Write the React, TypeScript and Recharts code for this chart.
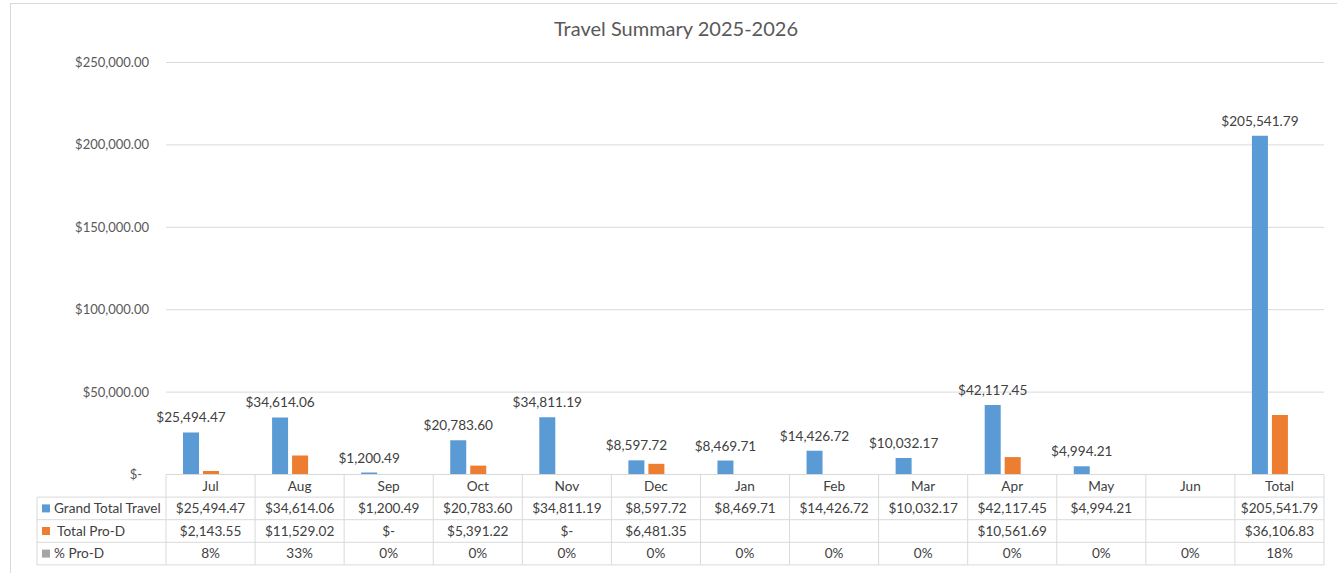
import { BarChart, Bar, XAxis, YAxis, CartesianGrid, LabelList } from "recharts";

// Excel palette -- raw hex because recharts paints SVG directly
const BLUE = "#5B9BD5";
const ORANGE = "#ED7D31";
const GRAY = "#A5A5A5";
const GRID = "#D9D9D9";
const AXIS_TEXT = "#595959";
const TABLE_TEXT = "#404040";
const FONT = "Lato, 'Open Sans', sans-serif";

const months = ["Jul", "Aug", "Sep", "Oct", "Nov", "Dec", "Jan", "Feb", "Mar", "Apr", "May", "Jun", "Total"];
const grandTotalTravel = [
  25494.47, 34614.06, 1200.49, 20783.6, 34811.19, 8597.72, 8469.71, 14426.72, 10032.17, 42117.45, 4994.21, null,
  205541.79,
];
const totalProD = [2143.55, 11529.02, 0, 5391.22, 0, 6481.35, null, null, null, 10561.69, null, null, 36106.83];
const pctProD = [0.08, 0.33, 0, 0, 0, 0, 0, 0, 0, 0, 0, 0, 0.18];
const yTicks = [0, 50000, 100000, 150000, 200000, 250000];

const seriesNames = ["Grand Total Travel", " Total Pro-D", "% Pro-D"];
const seriesColors = [BLUE, ORANGE, GRAY];

const W = 1337;
const H = 573;
const PLOT_LEFT = 166;
const PLOT_RIGHT = 1324;
const PLOT_TOP = 62.5;
const PLOT_BOTTOM = 474.5;
const ROW_H = 22.6;
const TABLE_LEFT = 37;
const XAXIS_H = 92;
const TABLE_FS = 13.6;

const money = (v: number | null) => {
  if (v === null || v === undefined) return "";
  if (v === 0) return "$-";
  return "$" + v.toLocaleString("en-US", { minimumFractionDigits: 2, maximumFractionDigits: 2 });
};
const pct = (v: number | null) => (v === null ? "" : `${Math.round(v * 100)}%`);

const data = months.map((m, i) => ({
  month: m,
  travel: grandTotalTravel[i],
  prod: totalProD[i],
  pct: pctProD[i],
}));

function YTick(props: any) {
  const { x, y, payload } = props;
  const zero = payload.value === 0;
  return (
    <text x={zero ? x - 16 : x - 9} y={y} dy={4.5} textAnchor="end" fill={AXIS_TEXT} fontSize={13} fontFamily={FONT}>
      {zero ? "$-" : money(payload.value)}
    </text>
  );
}

function TableColumn(props: any) {
  const { x, index } = props;
  const colW = (PLOT_RIGHT - PLOT_LEFT) / months.length;
  const left = x - colW / 2;
  const rows = [money(grandTotalTravel[index]), money(totalProD[index]), pct(pctProD[index])];
  const top = PLOT_BOTTOM;
  const cellText = (txt: string, r: number, cx: number) => (
    <text
      x={cx}
      y={top + ROW_H * r + ROW_H / 2}
      dy={4.7}
      textAnchor="middle"
      fill={TABLE_TEXT}
      fontSize={TABLE_FS}
      fontFamily={FONT}
    >
      {txt}
    </text>
  );
  return (
    <g>
      {index === 0 && (
        <g>
          <line x1={TABLE_LEFT} x2={TABLE_LEFT} y1={top + ROW_H} y2={top + ROW_H * 4} stroke={GRID} />
          {[1, 2, 3, 4].map((r) => (
            <line key={r} x1={TABLE_LEFT} x2={left} y1={top + ROW_H * r} y2={top + ROW_H * r} stroke={GRID} />
          ))}
          {seriesNames.map((name, r) => (
            <g key={name}>
              <rect
                x={TABLE_LEFT + 5}
                y={top + ROW_H * (r + 1) + ROW_H / 2 - 4}
                width={8}
                height={8}
                fill={seriesColors[r]}
              />
              <text
                x={TABLE_LEFT + 17}
                y={top + ROW_H * (r + 1) + ROW_H / 2}
                dy={4.7}
                fill={TABLE_TEXT}
                fontSize={TABLE_FS}
                fontFamily={FONT}
                style={{ whiteSpace: "pre" }}
              >
                {name}
              </text>
            </g>
          ))}
        </g>
      )}
      <line x1={left} x2={left} y1={top} y2={top + ROW_H * 4} stroke={GRID} />
      {index === months.length - 1 && (
        <line x1={left + colW} x2={left + colW} y1={top} y2={top + ROW_H * 4} stroke={GRID} />
      )}
      {[1, 2, 3, 4].map((r) => (
        <line key={r} x1={left} x2={left + colW} y1={top + ROW_H * r} y2={top + ROW_H * r} stroke={GRID} />
      ))}
      {cellText(months[index], 0, x)}
      {rows.map((t, r) => (
        <g key={r}>{cellText(t, r + 1, x)}</g>
      ))}
    </g>
  );
}

export default function App() {
  return (
    <div style={{ position: "absolute", left: 0, top: 0, width: W, height: H, background: "#fff", overflow: "hidden" }}>
      <div
        style={{
          position: "absolute",
          left: 10,
          top: 3,
          width: W + 10,
          height: H + 10,
          border: `1px solid ${GRID}`,
        }}
      />
      <div
        style={{
          position: "absolute",
          left: 0,
          width: 1352,
          top: 16,
          textAlign: "center",
          fontFamily: FONT,
          fontSize: 20,
          color: AXIS_TEXT,
        }}
      >
        Travel Summary 2025-2026
      </div>
      <div style={{ position: "absolute", left: 0, top: 0 }}>
        <BarChart
          width={W}
          height={H}
          data={data}
          margin={{ top: PLOT_TOP, right: W - PLOT_RIGHT, left: 0, bottom: H - PLOT_BOTTOM - XAXIS_H }}
          barCategoryGap={17}
          barGap={4}
        >
          <CartesianGrid horizontal vertical={false} stroke={GRID} />
          <YAxis
            width={PLOT_LEFT}
            domain={[0, 250000]}
            ticks={yTicks}
            axisLine={false}
            tickLine={false}
            tick={(p: any) => <YTick {...p} />}
          />
          <XAxis
            dataKey="month"
            height={XAXIS_H}
            interval={0}
            axisLine={{ stroke: GRID }}
            tickLine={false}
            tick={(p: any) => <TableColumn {...p} />}
          />
          <Bar dataKey="travel" fill={BLUE} isAnimationActive={false}>
            <LabelList
              dataKey="travel"
              position="top"
              offset={10}
              fill={TABLE_TEXT}
              fontSize={TABLE_FS}
              fontFamily={FONT}
              formatter={(v: any) => (v === null || v === undefined ? "" : money(v))}
            />
          </Bar>
          <Bar dataKey="prod" fill={ORANGE} isAnimationActive={false} />
          <Bar dataKey="pct" fill={GRAY} isAnimationActive={false} />
        </BarChart>
      </div>
    </div>
  );
}
